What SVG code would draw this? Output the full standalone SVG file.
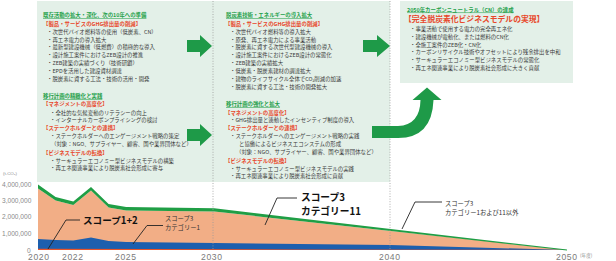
<svg xmlns="http://www.w3.org/2000/svg" width="616" height="261" viewBox="0 0 616 261">
<style>
text{font-family:"Noto Sans CJK JP","Noto Sans",sans-serif;}
.b{font-size:5.4px;fill:#3a3a3a;}
.g{font-size:5.4px;fill:#24a04a;text-decoration:underline;font-weight:bold;}
.r{font-size:5.4px;fill:#e8472a;font-weight:bold;}
.ax{font-family:"Liberation Sans",sans-serif;font-size:6.6px;fill:#8a8a8a;}
.yr{font-family:"Liberation Sans",sans-serif;font-size:8.6px;fill:#7a7a7a;letter-spacing:0.6px;}
.arr{fill:#1e9a48;}
.dot{stroke:#9a9a9a;stroke-width:0.8;stroke-dasharray:1 1.6;fill:none;}
.ld{stroke:#222;stroke-width:0.9;fill:none;}
.bg{fill:#e3f0e8;}
</style>
<rect class="bg" x="37" y="1" width="353" height="181"/>
<rect class="bg" x="400" y="1" width="173" height="82"/>

<g id="chart">
<polygon fill="#f2ae86" points="38,188.5 55.6,200.5 73.3,205 91,190.5 108.6,207.5 126.2,210.5 214.3,211.5 390.6,231 567,250 38,250"/>
<polygon fill="#1d5fae" points="38,239 55.6,240 73.3,240.5 91,237.5 108.6,241 126.2,242 214.3,243 390.6,245 567,250 38,250"/>
<polygon fill="#e8542a" points="38,248.8 300,249.4 567,250 38,250"/>
<polygon fill="#1f9e45" points="38,184.5 55.6,197 73.3,201.5 91,187 108.6,204 126.2,207 214.3,208.3 390.6,229 567,249.6 567,250.4 390.6,231 214.3,211.5 126.2,210.5 108.6,207.5 91,190.5 73.3,205 55.6,200.5 38,188.5"/>
</g>

<g id="axes">
<text class="ax" x="3" y="175" style="font-size:4.4px">(t-CO₂)</text>
<text class="ax" x="2" y="186.5">4,000,000</text>
<text class="ax" x="2" y="202.5">3,000,000</text>
<text class="ax" x="2" y="219">2,000,000</text>
<text class="ax" x="2" y="236">1,000,000</text>
<text class="ax" x="27" y="252.5">0</text>
<text class="yr" x="28" y="260">2020</text>
<text class="yr" x="62" y="260">2022</text>
<text class="yr" x="115" y="260">2025</text>
<text class="yr" x="201" y="260">2030</text>
<text class="yr" x="379" y="260">2040</text>
<text class="yr" x="556" y="260">2050</text>
<text class="ax" x="580" y="256.5" style="font-family:'Noto Sans CJK JP',sans-serif;font-size:4.6px">(年度)</text>
</g>

<g id="dividers">
<line class="dot" x1="213" y1="1" x2="213" y2="250"/>
<line class="dot" x1="390" y1="1" x2="390" y2="250"/>
</g>

<g id="connectors">
<path class="arr" d="M187,40 L200,40 L200,35 L212,46 L200,57 L200,52 L187,52 Z"/>
<path class="arr" d="M187,129 L200,129 L200,124 L212,135 L200,146 L200,141 L187,141 Z"/>
<path class="arr" d="M363,40 L377,40 L377,35 L390,46 L377,57 L377,52 L363,52 Z"/>
<path class="arr" d="M372,126 L398,126 Q420,125 420.5,100 L412.5,100 L427,87.5 L441.5,100 L433.5,100 Q432,138 398,138 L372,138 Z"/>
<polyline class="ld" points="80,220 66,220 48,249"/>
<polyline class="ld" points="163,225.5 147,225.5 133,244"/>
<polyline class="ld" points="297,198 277,198 265,225"/>
<polyline class="ld" points="442,202 415,202 402,229"/>
</g>

<g id="labels">
<text x="83" y="223.5" style="font-size:9.6px;font-weight:bold;fill:#111">スコープ1+2</text>
<text x="165" y="220.5" style="font-size:6.3px;fill:#333">スコープ3</text>
<text x="165" y="229.8" style="font-size:6.3px;fill:#333">カテゴリー1</text>
<text x="301" y="200.5" style="font-size:9.7px;font-weight:bold;fill:#111">スコープ3</text>
<text x="301" y="214.8" style="font-size:9.7px;font-weight:bold;fill:#111">カテゴリー11</text>
<text x="445" y="205.5" style="font-size:6.3px;fill:#333">スコープ3</text>
<text x="445" y="214.8" style="font-size:6.3px;fill:#333">カテゴリー1および11以外</text>
</g>

<g id="panel1">
<text class="g" x="43" y="17">既存活動の拡大・深化、次の10年への準備</text>
<text class="r" x="43" y="26">【製品・サービスのGHG排出量の削減】</text>
<text class="b" x="47" y="34">・次世代バイオ燃料等の使用（低炭素、CN）</text>
<text class="b" x="47" y="41.5">・再エネ電力の導入拡大</text>
<text class="b" x="47" y="49">・最新型建設機械（低燃費）の積極的な導入</text>
<text class="b" x="47" y="57">・設計施工案件におけるZEB設計の推進</text>
<text class="b" x="47" y="65">・ZEB建築の実績づくり（技術研鑽）</text>
<text class="b" x="47" y="73">・EPDを活用した建設資材調達</text>
<text class="b" x="47" y="81">・脱炭素に資する工法・技術の活用・開発</text>
<text class="g" x="43" y="98">移行計画の精緻化と実践</text>
<text class="r" x="43" y="106">【マネジメントの高度化】</text>
<text class="b" x="50" y="114.5">・全社的な気候変動のリテラシーの向上</text>
<text class="b" x="50" y="122">・インターナルカーボンプライシングの検討</text>
<text class="r" x="43" y="130">【ステークホルダーとの連携】</text>
<text class="b" x="50" y="138">・ステークホルダーへのエンゲージメント戦略の策定</text>
<text class="b" x="51" y="146">（対象：NGO、サプライヤー、顧客、国や業界団体など）</text>
<text class="r" x="43" y="154.5">【ビジネスモデルの転換】</text>
<text class="b" x="50" y="162.5">・サーキュラーエコノミー型ビジネスモデルの構築</text>
<text class="b" x="50" y="170">・再エネ関連事業により脱炭素社会形成に寄与</text>
</g>

<g id="panel2">
<text class="g" x="226" y="17">脱炭素技術・エネルギーの導入拡大</text>
<text class="r" x="225" y="26">【製品・サービスのGHG排出量の削減】</text>
<text class="b" x="230" y="34">・次世代バイオ燃料等の導入拡大</text>
<text class="b" x="230" y="41.5">・原発、再エネ電力による事業活動</text>
<text class="b" x="230" y="49">・脱炭素に資する次世代型建設機械の導入</text>
<text class="b" x="230" y="57">・設計施工案件におけるZEB設計の常態化</text>
<text class="b" x="230" y="65">・ZEB建築の実績拡大</text>
<text class="b" x="230" y="73">・低炭素・脱炭素建材の調達拡大</text>
<text class="b" x="230" y="81">・建物のライフサイクル全体でCO₂削減の加速</text>
<text class="b" x="230" y="89">・脱炭素に資する工法・技術の開発拡大</text>
<text class="g" x="226" y="106">移行計画の強化と拡大</text>
<text class="r" x="225" y="114.5">【マネジメントの高度化】</text>
<text class="b" x="230" y="122">・GHG排出量と連動したインセンティブ制度の導入</text>
<text class="r" x="225" y="130">【ステークホルダーとの連携】</text>
<text class="b" x="230" y="138">・ステークホルダーへのエンゲージメント戦略の実践</text>
<text class="b" x="239" y="146">と協働によるビジネスエコシステムの形成</text>
<text class="b" x="236" y="154">（対象：NGO、サプライヤー、顧客、国や業界団体など）</text>
<text class="r" x="225" y="162.5">【ビジネスモデルの転換】</text>
<text class="b" x="230" y="170.5">・サーキュラーエコノミー型ビジネスモデルの実践</text>
<text class="b" x="230" y="178">・再エネ関連事業により脱炭素社会形成に貢献</text>
</g>

<g id="panel3">
<text class="g" x="407" y="11.5">2050年カーボンニュートラル（CN）の達成</text>
<text x="404" y="21.5" style="font-size:7.8px;font-weight:bold;fill:#e8472a">【完全脱炭素化ビジネスモデルの実現】</text>
<text class="b" x="410" y="31">・事業活動で使用する電力の完全再エネ化</text>
<text class="b" x="410" y="39">・建設機械が電動化、または燃料のCN化</text>
<text class="b" x="410" y="46.5">・全施工案件のZEB化・CN化</text>
<text class="b" x="410" y="54">・カーボンリサイクル技術やオフセットにより残余排出を中和</text>
<text class="b" x="410" y="62">・サーキュラーエコノミー型ビジネスモデルの常態化</text>
<text class="b" x="410" y="69.5">・再エネ関連事業により脱炭素社会形成に大きく貢献</text>
</g>
</svg>
